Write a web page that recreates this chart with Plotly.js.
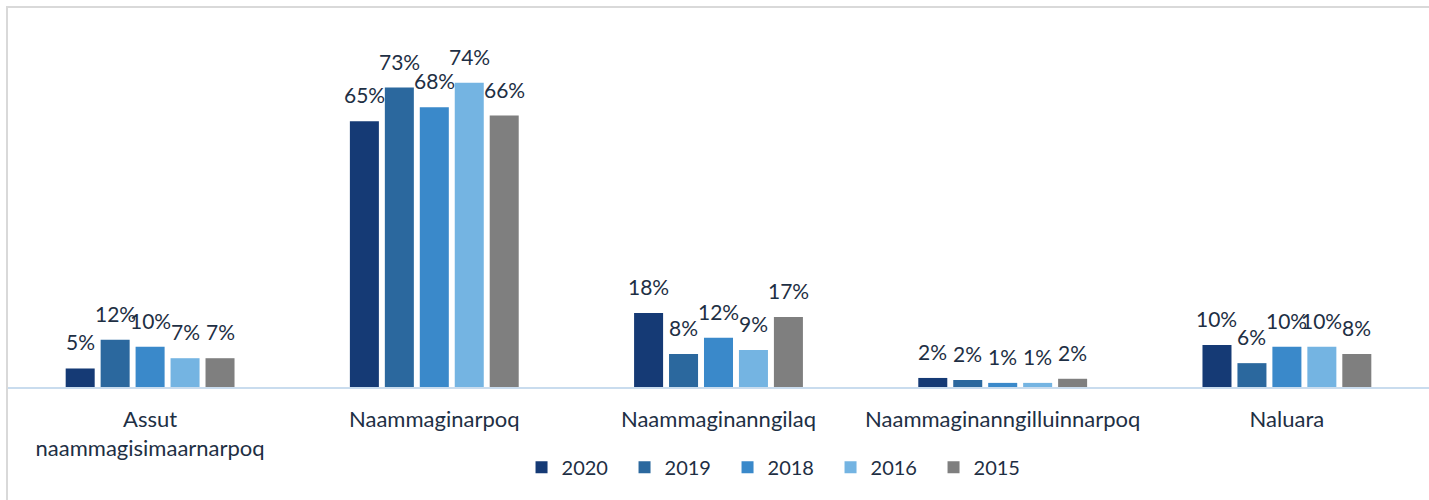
<!DOCTYPE html>
<html>
<head>
<meta charset="utf-8">
<script src="https://cdn.plot.ly/plotly-3.0.1.min.js"></script>
<style>
html,body{margin:0;padding:0;background:#fff;}
#wrap{position:relative;width:1429px;height:500px;}
#chart{position:absolute;left:0;top:0;width:1429px;height:500px;}
#frame{position:absolute;left:6px;top:6px;width:1423px;height:494px;border-left:2px solid #d9d9d9;border-top:2px solid #d9d9d9;pointer-events:none;}
</style>
</head>
<body>
<div id="wrap"><div id="chart"></div><div id="frame"></div></div>
<script>
const categories = ["Assut<br>naammagisimaarnarpoq", "Naammaginarpoq", "Naammaginanngilaq", "Naammaginanngilluinnarpoq", "Naluara"];
const years = ["2020", "2019", "2018", "2016", "2015"];
const v2020 = [4.5, 64.6, 18.0, 2.2, 10.2];
const v2019 = [11.5, 72.8, 8.0, 1.7, 5.8];
const v2018 = [9.8, 68.0, 12.0, 1.0, 9.8];
const v2016 = [7.0, 74.0, 9.0, 1.0, 9.8];
const v2015 = [7.0, 66.0, 17.0, 2.0, 8.0];
const labels2020 = ["5%", "65%", "18%", "2%", "10%"];
const labels2019 = ["12%", "73%", "8%", "2%", "6%"];
const labels2018 = ["10%", "68%", "12%", "1%", "10%"];
const labels2016 = ["7%", "74%", "9%", "1%", "10%"];
const labels2015 = ["7%", "66%", "17%", "2%", "8%"];
const colors = ["#153a75", "#2b689e", "#3a89ca", "#74b4e2", "#7f7f7f"];

const series = [v2020, v2019, v2018, v2016, v2015];
const labels = [labels2020, labels2019, labels2018, labels2016, labels2015];
const textColor = "#1e2f44";
const font = "Lato, 'Open Sans', sans-serif";

const W = 1429, H = 500;
const margin = {l: 8, r: 0, t: 58, b: 113};
const bargap = 0.385;
const nSeries = years.length;

const traces = years.map((y, i) => ({
  type: "bar",
  name: y,
  x: categories,
  y: series[i],
  marker: {color: colors[i], line: {width: 0}},
  hoverinfo: "skip"
}));

// value labels placed above each bar via annotations (same data arrays)
const plotW = W - margin.l - margin.r;
const slot = plotW / categories.length * (1 - bargap) / nSeries;
const annotations = [];
years.forEach((y, i) => {
  categories.forEach((c, j) => {
    annotations.push({
      x: j, y: series[i][j], xref: "x", yref: "y",
      text: labels[i][j], showarrow: false,
      xanchor: "center", yanchor: "bottom",
      xshift: (i - (nSeries - 1) / 2) * slot, yshift: 12,
      font: {family: font, size: 21, color: textColor}
    });
  });
});

const layout = {
  width: W, height: H,
  margin: margin,
  paper_bgcolor: "#ffffff",
  plot_bgcolor: "#ffffff",
  barmode: "group",
  bargap: bargap,
  bargroupgap: 0.17,
  font: {family: font, color: textColor},
  showlegend: true,
  legend: {
    orientation: "h", x: 0.5426, xanchor: "center", y: -0.185, yanchor: "top",
    font: {family: font, size: 20, color: textColor},
    entrywidth: 58, entrywidthmode: "pixels", traceorder: "normal"
  },
  annotations: annotations,
  xaxis: {
    tickfont: {family: font, size: 22, color: textColor},
    showline: true, linecolor: "#c9dcee", linewidth: 2,
    ticks: "", showgrid: false, zeroline: false,
    ticklabelstandoff: 12
  },
  yaxis: {
    range: [0, 80], visible: false, showgrid: false, zeroline: false, fixedrange: true
  }
};

Plotly.newPlot("chart", traces, layout, {displayModeBar: false, staticPlot: true});
</script>
</body>
</html>
